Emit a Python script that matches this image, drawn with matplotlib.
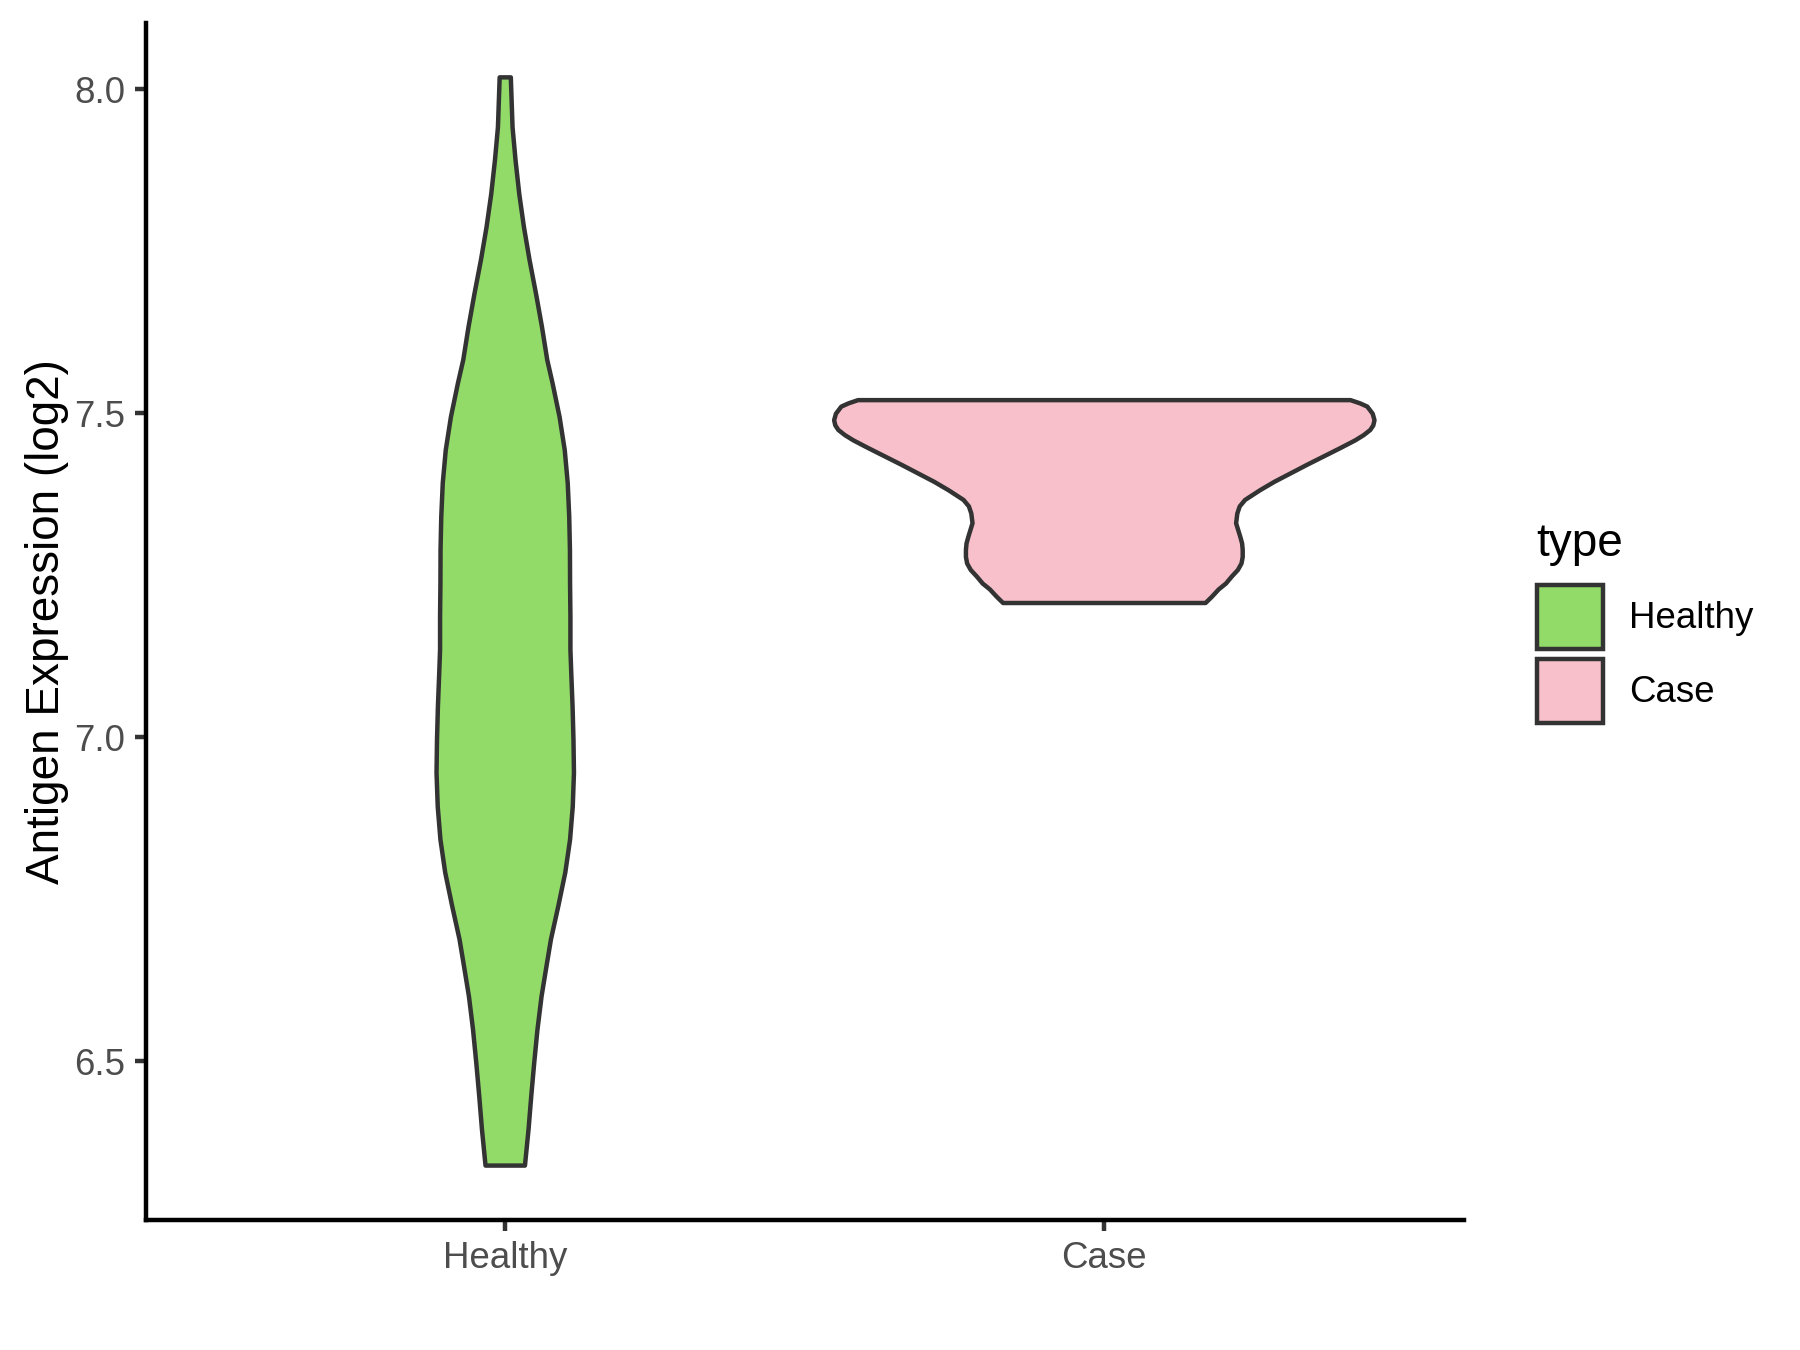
import numpy as np
import matplotlib
matplotlib.use("Agg")
from matplotlib import pyplot as plt
from matplotlib.patches import Patch

plt.rcParams['font.family'] = ['Liberation Sans', 'DejaVu Sans']

# groups and colours
groups = ["Healthy", "Case"]
fills = ["#93DB69", "#F8C0CB"]

# violin outlines: expression value and half width (x units)
healthy_y = [8.018, 7.941, 7.890, 7.838, 7.787, 7.736, 7.684, 7.633, 7.582, 7.546,
             7.494, 7.443, 7.392, 7.340, 7.289, 7.237, 7.186, 7.135, 7.099, 7.047,
             6.996, 6.945, 6.893, 6.842, 6.791, 6.739, 6.688, 6.652, 6.600, 6.549,
             6.498, 6.446, 6.395, 6.339]
healthy_w = [0.0093, 0.0122, 0.0172, 0.0234, 0.0312, 0.0406, 0.0514, 0.0613, 0.0701, 0.0790,
             0.0907, 0.0993, 0.1043, 0.1068, 0.1080, 0.1082, 0.1088, 0.1088, 0.1102, 0.1124,
             0.1139, 0.1147, 0.1127, 0.1082, 0.1002, 0.0885, 0.0763, 0.0698, 0.0606, 0.0538,
             0.0484, 0.0434, 0.0389, 0.0329]

case_y = [7.520, 7.515, 7.510, 7.499, 7.489, 7.481, 7.474, 7.466, 7.458, 7.446,
          7.433, 7.420, 7.407, 7.394, 7.381, 7.366, 7.356, 7.345, 7.330, 7.309,
          7.299, 7.289, 7.278, 7.268, 7.258, 7.248, 7.237, 7.228, 7.217, 7.207]
case_w = [0.411, 0.427, 0.439, 0.448, 0.451, 0.449, 0.444, 0.433, 0.419, 0.394,
          0.366, 0.338, 0.311, 0.284, 0.260, 0.235, 0.226, 0.222, 0.220, 0.227,
          0.230, 0.231, 0.231, 0.229, 0.223, 0.213, 0.203, 0.191, 0.180, 0.169]

y_ticks = [6.5, 7.0, 7.5, 8.0]
y_ticklabels = ["6.5", "7.0", "7.5", "8.0"]

lw = 1.07
edge = "#333333"

fig = plt.figure(figsize=(6, 4.5), dpi=300)
ax = fig.add_axes([0.081, 0.0963, 0.7322, 0.8867])

profiles = [(healthy_y, healthy_w), (case_y, case_w)]
for i, (yy, ww) in enumerate(profiles):
    pos = i + 1
    yy = np.array(yy)
    ww = np.array(ww)
    xs = np.concatenate([pos + ww, (pos - ww)[::-1]])
    ys = np.concatenate([yy, yy[::-1]])
    ax.fill(xs, ys, facecolor=fills[i], edgecolor=edge, linewidth=lw, joinstyle="round")

# ggplot style limits: 5% expansion of data range, 0.6 on discrete axis
lo = min(min(healthy_y), min(case_y))
hi = max(max(healthy_y), max(case_y))
span = hi - lo
ax.set_ylim(lo - 0.05 * span, hi + 0.05 * span)
ax.set_xlim(0.4, len(groups) + 0.6)

ax.set_xticks(range(1, len(groups) + 1))
ax.set_xticklabels(groups)
ax.set_yticks(y_ticks)
ax.set_yticklabels(y_ticklabels)

for s in ["top", "right"]:
    ax.spines[s].set_visible(False)
for s in ["left", "bottom"]:
    ax.spines[s].set_linewidth(lw)
    ax.spines[s].set_color("black")

ax.tick_params(axis="both", length=2.75, width=lw, color=edge, labelcolor="#4D4D4D",
               labelsize=8.8, pad=2.2)
ax.set_ylabel("Antigen Expression (log2)", fontsize=11, color="black", labelpad=1.3)

# legend: title as its own text, keys below it
fig.text(1536 / 1800, 1 - 556 / 1350, "type", fontsize=11, va="baseline", ha="left")
handles = [Patch(facecolor=fills[i], edgecolor=edge, linewidth=lw, label=groups[i])
           for i in range(len(groups))]
leg = fig.legend(handles=handles, loc="upper left",
                 bbox_to_anchor=(1537 / 1800, 1 - 585 / 1350), frameon=False,
                 fontsize=8.8, handlelength=1.8, handleheight=2.3,
                 handletextpad=0.7, labelspacing=0.27, borderpad=0, borderaxespad=0)

fig.savefig("out.png", dpi=300)
